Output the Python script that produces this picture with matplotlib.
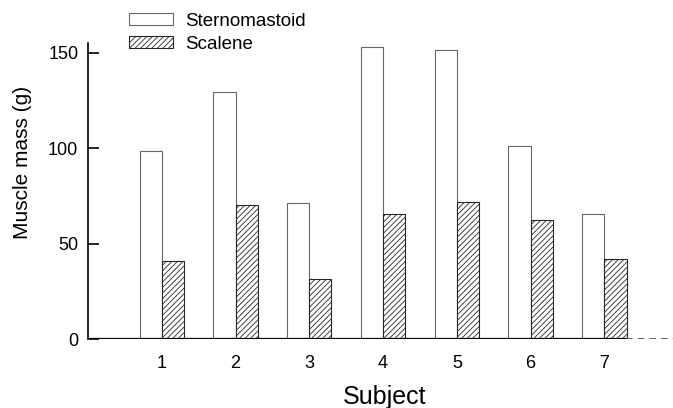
import matplotlib
matplotlib.use('Agg')
import matplotlib.pyplot as plt
import numpy as np

plt.rcParams['font.family'] = ['Liberation Sans', 'DejaVu Sans']
plt.rcParams['hatch.linewidth'] = 0.6

# values
subjects = [1, 2, 3, 4, 5, 6, 7]
sternomastoid = [98.7, 129.5, 71.5, 153.2, 151.6, 101.4, 65.8]
scalene = [40.8, 70.2, 31.6, 65.8, 71.9, 62.5, 41.9]
yticks = [0, 50, 100, 150]

bar_w = 0.3

fig = plt.figure(figsize=(6.73, 4.08), dpi=100)
# axes box in pixels: left 88, bottom y=339.3, 296 px tall
ax = fig.add_axes([88 / 673, (408 - 339.3) / 408, 1 - 88 / 673, 296 / 408])

x = np.array(subjects)
ax.bar(x - bar_w / 2, sternomastoid, bar_w, color='white', edgecolor='0.4',
       linewidth=0.8, label='Sternomastoid')
ax.bar(x + bar_w / 2, scalene, bar_w, color='white', edgecolor='0.15',
       linewidth=0.8, hatch='//////', label='Scalene')

ax.set_xlim(0, 7.93)
ax.set_ylim(0, 155)
ax.set_xticks(subjects)
ax.set_yticks(yticks)
ax.tick_params(axis='x', length=0, pad=11, labelsize=13)
ax.tick_params(axis='y', direction='in', length=8, width=1.2, pad=7, labelsize=13)

for s in ['top', 'right', 'bottom']:
    ax.spines[s].set_visible(False)
ax.spines['left'].set_linewidth(1.2)
# zero line: solid under the bars, dashed after the last one
ax.axhline(0, xmin=0, xmax=0.92, color='black', linewidth=1.6, zorder=3)
ax.axhline(0, xmin=0.92, xmax=1, color='0.3', linewidth=1.2, ls=(0, (4, 3)), zorder=3)

ax.set_xlabel('Subject', fontsize=18)
ax.set_ylabel('Muscle mass (g)', fontsize=15)
ax.xaxis.set_label_coords(0.507, -0.156)
ax.yaxis.set_label_coords(-0.0957, 0.599)

ax.legend(loc='upper left', bbox_to_anchor=(129 / 673, 1 - 13 / 408),
          bbox_transform=fig.transFigure, frameon=False, fontsize=13.5,
          borderpad=0, borderaxespad=0, handlelength=2.35, handleheight=0.62,
          handletextpad=0.62, labelspacing=0.3)

fig.savefig('out.png', dpi=100)
